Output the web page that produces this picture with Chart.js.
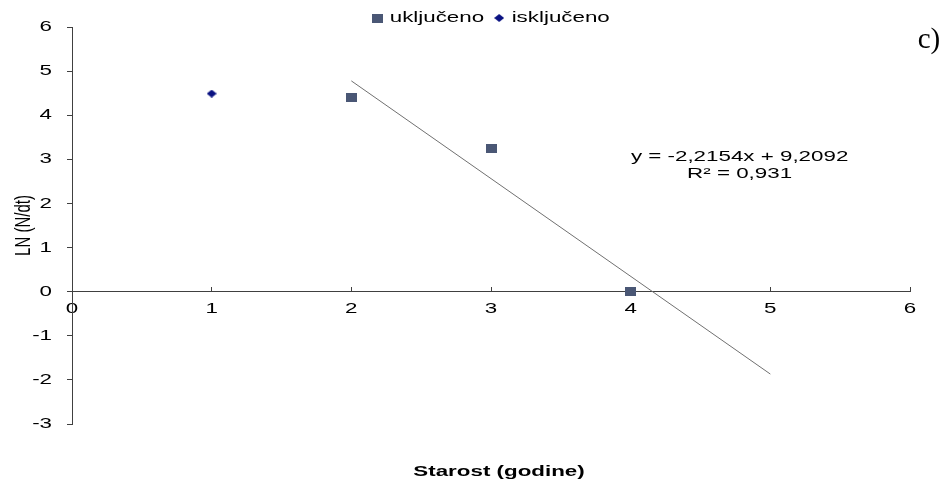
<!DOCTYPE html>
<html>
<head>
<meta charset="utf-8">
<script src="https://cdn.jsdelivr.net/npm/chart.js@4/dist/chart.umd.min.js"></script>
<style>
  html, body { margin: 0; padding: 0; background: #fff; }
  #wrap { width: 944px; height: 484px; }
</style>
</head>
<body>
<div id="wrap"><canvas id="chartAge"></canvas></div>
<script>
// data
const INCLUDED_X = [2, 3, 4];
const INCLUDED_Y = [4.41, 3.24, 0];
const EXCLUDED_X = [1];
const EXCLUDED_Y = [4.49];
const TREND_SLOPE = -2.2154;
const TREND_INTERCEPT = 9.2092;
const TREND_X = [2, 5];
const X_TICKS = [0, 1, 2, 3, 4, 5, 6];
const Y_TICKS = [-3, -2, -1, 0, 1, 2, 3, 4, 5, 6];

const FONT = "'Liberation Sans', Arial, sans-serif";
// the original picture is stretched sideways, so text is too
const TEXT_STRETCH = 1.49;

const toPoints = (xs, ys) => xs.map((x, i) => ({ x: x, y: ys[i] }));

const chartAge = document.getElementById("chartAge").getContext("2d");
const baseFill = CanvasRenderingContext2D.prototype.fillText;
const baseMeasure = CanvasRenderingContext2D.prototype.measureText;

// stretch all chart text along the screen x direction, around its anchor
chartAge.fillText = function (text, x, y, maxWidth) {
    const t = this.getTransform();
    const p = t.transformPoint({ x: x, y: y });
    const m = new DOMMatrix()
        .translate(p.x, p.y)
        .scale(TEXT_STRETCH, 1)
        .translate(-p.x, -p.y)
        .multiply(t);
    this.setTransform(m);
    if (maxWidth !== undefined) {
        baseFill.call(this, text, x, y, maxWidth / TEXT_STRETCH);
    } else {
        baseFill.call(this, text, x, y);
    }
    this.setTransform(t);
};
chartAge.measureText = function (text) {
    const m = baseMeasure.call(this, text);
    return {
        width: m.width * TEXT_STRETCH,
        actualBoundingBoxLeft: m.actualBoundingBoxLeft * TEXT_STRETCH,
        actualBoundingBoxRight: m.actualBoundingBoxRight * TEXT_STRETCH,
        actualBoundingBoxAscent: m.actualBoundingBoxAscent,
        actualBoundingBoxDescent: m.actualBoundingBoxDescent,
        fontBoundingBoxAscent: m.fontBoundingBoxAscent,
        fontBoundingBoxDescent: m.fontBoundingBoxDescent,
    };
};

// small marker pictures, wider than tall like the original
function makeMarker(w, h, color, diamond) {
    const c = document.createElement("canvas");
    c.width = w;
    c.height = h;
    const g = c.getContext("2d");
    g.fillStyle = color;
    if (diamond) {
        g.beginPath();
        g.moveTo(w / 2, 0);
        g.lineTo(w, h / 2);
        g.lineTo(w / 2, h);
        g.lineTo(0, h / 2);
        g.closePath();
        g.fill();
    } else {
        g.fillRect(0, 0, w, h);
    }
    return c;
}
const squareMark = makeMarker(11, 9, "#4a5775", false);
const diamondMark = makeMarker(10, 8, "#0a1282", true);

// legend box is a bit shorter than chart.js makes it, so the plot starts higher
const LEGEND_TRIM = 8.5;
const trimLegend = {
    id: "trimLegend",
    beforeLayout(chart) {
        const lg = chart.legend;
        if (lg && !lg._trimmed) {
            const fit = lg.fit;
            lg.fit = function () {
                fit.call(this);
                this.height -= LEGEND_TRIM;
            };
            lg._trimmed = true;
        }
    },
};

// equation label, x axis title and "c)" mark
const extraText = {
    id: "extraText",
    afterDraw(chart) {
        const ctx = chart.ctx;
        const xs = chart.scales.x;
        const ys = chart.scales.y;
        const area = chart.chartArea;
        ctx.save();
        ctx.fillStyle = "#000";
        ctx.textAlign = "center";
        ctx.textBaseline = "middle";
        ctx.font = "15px " + FONT;
        const cx = xs.getPixelForValue(4.78);
        ctx.fillText("y = -2,2154x + 9,2092", cx, ys.getPixelForValue(3.05));
        ctx.fillText("R² = 0,931", cx, ys.getPixelForValue(2.66));
        ctx.font = "bold 15px " + FONT;
        ctx.fillText("Starost (godine)", (area.left + area.right) / 2 + 8, area.bottom + 48);
        ctx.font = "29px 'Liberation Serif', 'Times New Roman', serif";
        baseFill.call(ctx, "c)", 929, 40);
        ctx.restore();
    },
};

var myChart = new Chart(chartAge, {
    type: "scatter",
    data: {
        datasets: [
            {
                label: "uključeno",
                data: toPoints(INCLUDED_X, INCLUDED_Y),
                pointStyle: squareMark,
                pointRadius: 5,
                pointHoverRadius: 5,
                backgroundColor: "#4a5775",
                borderColor: "#4a5775",
            },
            {
                label: "isključeno",
                data: toPoints(EXCLUDED_X, EXCLUDED_Y),
                pointStyle: diamondMark,
                pointRadius: 5,
                pointHoverRadius: 5,
                backgroundColor: "#0a1282",
                borderColor: "#0a1282",
            },
            {
                label: "trend",
                type: "line",
                data: TREND_X.map((x) => ({ x: x, y: TREND_SLOPE * x + TREND_INTERCEPT })),
                borderColor: "#707070",
                borderWidth: 1,
                pointRadius: 0,
                fill: false,
                tension: 0,
            },
        ],
    },
    options: {
        responsive: true,
        maintainAspectRatio: false,
        animation: false,
        layout: {
            padding: { left: 0, right: 34, top: 0.5, bottom: 60 },
        },
        plugins: {
            legend: {
                position: "top",
                fullSize: false,
                labels: {
                    usePointStyle: true,
                    boxWidth: 10,
                    boxHeight: 10,
                    padding: 10,
                    color: "#000",
                    font: { family: FONT, size: 15 },
                    filter: (item) => item.text !== "trend",
                },
            },
            title: { display: false },
            tooltip: { enabled: false },
        },
        scales: {
            x: {
                type: "linear",
                position: { y: 0 },
                min: 0,
                max: 6,
                afterBuildTicks: (scale) => {
                    scale.ticks = X_TICKS.map((v) => ({ value: v }));
                },
                grid: {
                    display: true,
                    drawOnChartArea: false,
                    drawTicks: true,
                    tickLength: -5,
                    color: "#404040",
                },
                border: { display: true, color: "#404040", width: 1 },
                ticks: {
                    color: "#000",
                    padding: 13,
                    font: { family: FONT, size: 15 },
                },
            },
            y: {
                type: "linear",
                position: "left",
                min: -3,
                max: 6,
                afterBuildTicks: (scale) => {
                    scale.ticks = Y_TICKS.map((v) => ({ value: v }));
                },
                afterFit: (scale) => {
                    scale.width = 72;
                },
                grid: {
                    display: true,
                    drawOnChartArea: false,
                    drawTicks: true,
                    tickLength: 5,
                    color: "#404040",
                },
                border: { display: true, color: "#404040", width: 1 },
                ticks: {
                    color: "#000",
                    padding: 15,
                    font: { family: FONT, size: 15 },
                },
                title: {
                    display: true,
                    text: "LN (N/dt)",
                    color: "#000",
                    font: { family: FONT, size: 15 },
                    padding: { top: 15, bottom: 0 },
                },
            },
        },
    },
    plugins: [trimLegend, extraText],
});
</script>
</body>
</html>
